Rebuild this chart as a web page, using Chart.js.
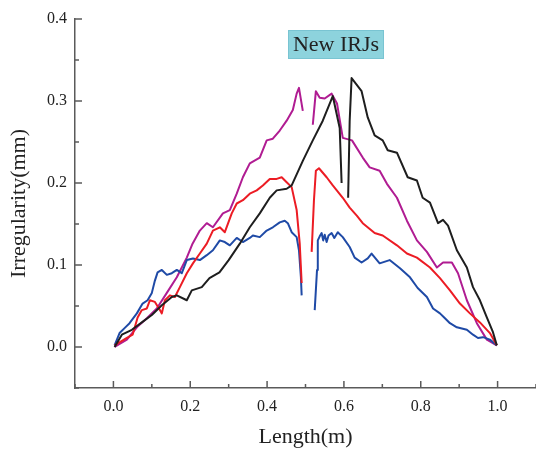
<!DOCTYPE html>
<html><head><meta charset="utf-8">
<script src="https://cdn.jsdelivr.net/npm/chart.js@4/dist/chart.umd.min.js"></script>
<style>html,body{margin:0;padding:0;background:#fff}</style>
</head><body>
<canvas id="c" width="536" height="451"></canvas>
<script>
// ---- data (null = break in the curve) ----
const blackX = [0.003,0.022,0.048,0.074,0.10,0.126,0.152,0.165,0.191,0.204,0.23,0.25,0.276,0.30,0.329,0.355,0.381,0.407,0.425,0.451,0.464,0.493,0.519,0.545,0.571,0.589,0.594,0.60,0.611,0.615,0.620,0.646,0.662,0.680,0.701,0.714,0.738,0.766,0.790,0.805,0.824,0.845,0.858,0.871,0.894,0.920,0.936,0.954,0.972,0.988,0.998];
const blackY = [0,0.015,0.021,0.030,0.039,0.051,0.061,0.063,0.057,0.069,0.073,0.084,0.091,0.106,0.126,0.146,0.163,0.182,0.191,0.193,0.197,0.227,0.252,0.276,0.306,0.267,0.200,null,0.182,0.276,0.328,0.312,0.280,0.258,0.252,0.240,0.237,0.207,0.203,0.182,0.176,0.151,0.155,0.148,0.118,0.097,0.073,0.057,0.036,0.018,0.002];

const magentaX = [0.003,0.035,0.061,0.087,0.113,0.139,0.165,0.191,0.206,0.225,0.243,0.259,0.285,0.303,0.321,0.337,0.355,0.381,0.399,0.415,0.433,0.451,0.467,0.477,0.483,0.493,0.505,0.519,0.527,0.537,0.550,0.568,0.582,0.597,0.621,0.649,0.667,0.693,0.712,0.738,0.764,0.790,0.816,0.842,0.858,0.881,0.897,0.920,0.946,0.972,0.998];
const magentaY = [0,0.009,0.024,0.035,0.047,0.066,0.085,0.109,0.126,0.142,0.151,0.146,0.163,0.167,0.187,0.207,0.224,0.231,0.252,0.254,0.264,0.276,0.289,0.309,0.316,0.288,null,0.271,0.312,0.304,0.303,0.309,0.297,0.255,0.252,0.231,0.219,0.215,0.199,0.182,0.154,0.130,0.116,0.097,0.103,0.103,0.090,0.057,0.029,0.009,0.002];

const redX = [0.003,0.035,0.050,0.063,0.074,0.087,0.095,0.108,0.121,0.126,0.134,0.147,0.160,0.173,0.191,0.207,0.225,0.243,0.259,0.277,0.290,0.308,0.321,0.337,0.355,0.373,0.389,0.407,0.425,0.438,0.451,0.464,0.477,0.485,0.490,0.503,0.516,0.522,0.527,0.535,0.555,0.571,0.597,0.615,0.634,0.649,0.680,0.701,0.738,0.764,0.790,0.824,0.850,0.876,0.902,0.928,0.954,0.980,0.998];
const redY = [0.002,0.011,0.015,0.036,0.045,0.047,0.057,0.055,0.045,0.041,0.057,0.063,0.061,0.073,0.090,0.102,0.114,0.126,0.142,0.146,0.140,0.163,0.175,0.179,0.187,0.191,0.197,0.205,0.205,0.207,0.201,0.195,0.167,0.126,0.078,null,0.116,0.179,0.215,0.218,0.207,0.197,0.182,0.170,0.160,0.151,0.139,0.136,0.124,0.114,0.109,0.097,0.084,0.069,0.053,0.041,0.030,0.017,0.002];

const blueX = [0.003,0.016,0.029,0.042,0.061,0.076,0.089,0.100,0.108,0.115,0.126,0.139,0.152,0.165,0.178,0.191,0.207,0.225,0.243,0.259,0.277,0.290,0.303,0.321,0.337,0.355,0.363,0.381,0.399,0.415,0.433,0.446,0.454,0.464,0.477,0.483,0.488,0.490,0.507,0.524,0.530,0.532,0.537,0.542,0.546,0.550,0.555,0.560,0.568,0.575,0.584,0.597,0.615,0.628,0.646,0.662,0.672,0.693,0.719,0.746,0.772,0.792,0.816,0.832,0.850,0.863,0.876,0.894,0.920,0.936,0.949,0.962,0.980,0.998];
const blueY = [0.002,0.017,0.023,0.029,0.041,0.053,0.057,0.066,0.081,0.091,0.094,0.088,0.090,0.094,0.090,0.106,0.108,0.106,0.112,0.118,0.130,0.128,0.124,0.133,0.128,0.133,0.136,0.134,0.142,0.146,0.152,0.154,0.151,0.140,0.134,0.118,0.085,0.063,null,0.045,0.094,0.130,0.135,0.139,0.130,0.137,0.128,0.136,0.139,0.133,0.140,0.134,0.122,0.109,0.103,0.108,0.114,0.102,0.106,0.096,0.085,0.072,0.061,0.047,0.041,0.035,0.029,0.024,0.021,0.015,0.011,0.012,0.009,0.002];

const xTickLabels = ['0.0','0.2','0.4','0.6','0.8','1.0'];
const yTickLabels = ['0.0','0.1','0.2','0.3','0.4'];
const annotationText = 'New IRJs';

function pts(xs, ys){ return xs.map((x,i)=>({x:x, y:ys[i]})); }

const FONT = '"Liberation Serif", "Times New Roman", serif';
const AXIS = '#5a5a5a';

const inwardTicks = {
  id:'inwardTicks',
  afterDraw(chart){
    const ctx = chart.ctx, xs = chart.scales.x, ys = chart.scales.y;
    ctx.save();
    ctx.strokeStyle = AXIS; ctx.lineWidth = 1.5;
    ys.ticks.forEach(t=>{
      const p = ys.getPixelForValue(t.value);
      const major = Math.abs(Math.round(t.value*10) - t.value*10) < 1e-6;
      const len = major ? 7 : 4;
      ctx.beginPath(); ctx.moveTo(xs.left, p); ctx.lineTo(xs.left+len, p); ctx.stroke();
    });
    xs.ticks.forEach(t=>{
      const p = xs.getPixelForValue(t.value);
      const major = Math.abs(Math.round(t.value*5) - t.value*5) < 1e-6;
      const len = major ? 7 : 4;
      ctx.beginPath(); ctx.moveTo(p, ys.bottom); ctx.lineTo(p, ys.bottom-len); ctx.stroke();
    });
    // annotation box
    const bx = 288, by = 30, bw = 96, bh = 29;
    ctx.fillStyle = '#8dd3dd';
    ctx.fillRect(bx, by, bw, bh);
    ctx.strokeStyle = '#79c4d2'; ctx.lineWidth = 1;
    ctx.strokeRect(bx+0.5, by+0.5, bw-1, bh-1);
    ctx.fillStyle = '#222';
    ctx.font = '22px ' + FONT;
    ctx.textAlign = 'center'; ctx.textBaseline = 'middle';
    ctx.fillText(annotationText, bx+bw/2, by+bh/2+1);
    ctx.restore();
  }
};

const ds = (label, xs, ys, color) => ({
  label, data: pts(xs, ys), borderColor: color, backgroundColor: color,
  borderWidth: 2, pointRadius: 0, showLine: true, spanGaps: false, tension: 0,
  borderJoinStyle: 'round'
});

new Chart(document.getElementById('c'), {
  type: 'scatter',
  data: { datasets: [
    ds('black', blackX, blackY, '#1e1e1e'),
    ds('red', redX, redY, '#ec1c24'),
    ds('blue', blueX, blueY, '#1f4aa6'),
    ds('magenta', magentaX, magentaY, '#b01c92')
  ]},
  options: {
    responsive: false, animation: false,
    layout: { padding: { top: 19, left: 0, right: 0, bottom: 0 } },
    plugins: { legend: { display: false }, tooltip: { enabled: false } },
    scales: {
      x: {
        type: 'linear', min: -0.1, max: 1.1,
        afterFit: s => { s.height = 63; s.paddingRight = 0; s.paddingLeft = 0; },
        grid: { display: false, drawTicks: false },
        border: { display: true, color: AXIS, width: 1.5 },
        ticks: {
          stepSize: 0.1, padding: 9, color: '#222', maxRotation: 0, autoSkip: false,
          font: { family: FONT, size: 16 },
          callback: v => { const k = Math.round(v*10); return (k >= 0 && k % 2 === 0 && Math.abs(v*10-k) < 1e-6) ? xTickLabels[k/2] : ''; }
        },
        title: { display: true, text: 'Length(m)', color: '#222', font: { family: FONT, size: 22, lineHeight: 1.2 }, padding: { top: 0, bottom: 1 } }
      },
      y: {
        type: 'linear', min: -0.05, max: 0.4,
        afterFit: s => { s.width = 75; s.paddingTop = 0; s.paddingBottom = 0; },
        grid: { display: false, drawTicks: false },
        border: { display: true, color: AXIS, width: 1.5 },
        ticks: {
          stepSize: 0.05, padding: 8, color: '#222', autoSkip: false,
          font: { family: FONT, size: 16 },
          callback: v => { const k = Math.round(v*20); return (k >= 0 && k % 2 === 0 && Math.abs(v*20-k) < 1e-6) ? yTickLabels[k/2] : ''; }
        },
        title: { display: true, text: 'Irregularity(mm)', color: '#222', font: { family: FONT, size: 22, lineHeight: 1.2 }, padding: { top: 6, bottom: 0 } }
      }
    }
  },
  plugins: [inwardTicks]
});
</script>
</body></html>
